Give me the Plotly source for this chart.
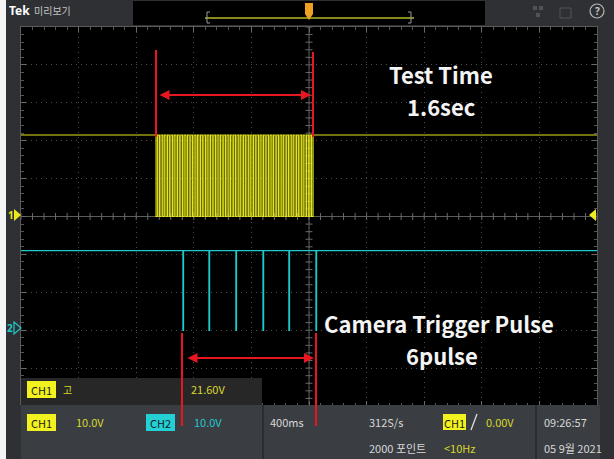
import numpy as np
import plotly.graph_objects as go

# ---------------- acquisition settings ----------------
TIME_PER_DIV = 0.4          # 400 ms/div, 10 divisions, trigger at centre
CH1_VOLTS_PER_DIV = 10.0
CH2_VOLTS_PER_DIV = 10.0
CH1_OFFSET_DIV = 0.0        # CH1 ground at screen centre
CH2_OFFSET_DIV = -3.0       # CH2 ground three divisions below centre

# ---------------- CH1: test pulse train ----------------
ch1_idle_v = 21.5
ch1_low_v = 0.0
ch1_low_width = 0.011
ch1_low_starts = [
    -1.062, -1.039, -1.016, -0.993, -0.970, -0.947, -0.924, -0.901,
    -0.878, -0.855, -0.832, -0.809, -0.786, -0.764, -0.741, -0.718,
    -0.695, -0.672, -0.649, -0.626, -0.603, -0.580, -0.557, -0.534,
    -0.511, -0.488, -0.465, -0.442, -0.419, -0.396, -0.373, -0.350,
    -0.327, -0.304, -0.281, -0.258, -0.235, -0.212, -0.189, -0.166,
    -0.143, -0.120, -0.097, -0.074, -0.051, -0.028, -0.005, 0.017,
]

# ---------------- CH2: camera trigger pulses ----------------
ch2_idle_v = 21.0
ch2_low_v = 0.0
ch2_pulse_width = 0.003
ch2_pulse_times = [-0.875, -0.694, -0.507, -0.319, -0.139, 0.049]

# ---------------- status readouts ----------------
ch1_scale_text = "10.0V"
ch2_scale_text = "10.0V"
timebase_text = "400ms"
sample_rate_text = "312S/s"
record_text = "2000 포인트"
trigger_level_text = "0.00V"
trigger_freq_text = "<10Hz"
clock_text = "09:26:57"
date_text = "05 9월 2021"
cursor_text = "21.60V"

W, H = 614, 459
X0, X1, Y0, Y1 = 21, 597, 27, 406   # graticule in pixels


def px(x):
    return x / W


def py(y):
    return 1 - y / H


def build_trace(idle, low, starts, width):
    t, v = [-5 * TIME_PER_DIV], [idle]
    for s in starts:
        t += [s, s, s + width, s + width]
        v += [idle, low, low, idle]
    t.append(5 * TIME_PER_DIV)
    v.append(idle)
    return t, v


fig = go.Figure()

# centre crosshair with minor tick marks
minor_x = np.arange(-5, 5.001, 0.2) * TIME_PER_DIV
minor_y = np.arange(-5, 5.001, 0.2)
fig.add_trace(go.Scatter(x=[-2, 2], y=[0, 0], mode="lines",
                         line=dict(color="#5c5c5c", width=1), hoverinfo="skip"))
fig.add_trace(go.Scatter(x=[0, 0], y=[-5, 5], mode="lines",
                         line=dict(color="#5c5c5c", width=1), hoverinfo="skip"))
fig.add_trace(go.Scatter(x=minor_x, y=np.zeros_like(minor_x), mode="markers",
                         marker=dict(symbol="line-ns", size=5,
                                     line=dict(color="#6a6a6a", width=1)),
                         hoverinfo="skip"))
fig.add_trace(go.Scatter(x=np.zeros_like(minor_y), y=minor_y, mode="markers",
                         marker=dict(symbol="line-ew", size=5,
                                     line=dict(color="#6a6a6a", width=1)),
                         hoverinfo="skip"))

# CH1 waveform
t1, v1 = build_trace(ch1_idle_v, ch1_low_v, ch1_low_starts, ch1_low_width)
fig.add_trace(go.Scatter(
    x=t1, y=[v / CH1_VOLTS_PER_DIV + CH1_OFFSET_DIV for v in v1],
    mode="lines", line=dict(color="#e6e61e", width=1.2, simplify=False),
    hoverinfo="skip"))

# CH2 waveform
t2, v2 = build_trace(ch2_idle_v, ch2_low_v, ch2_pulse_times, ch2_pulse_width)
fig.add_trace(go.Scatter(
    x=t2, y=[v / CH2_VOLTS_PER_DIV + CH2_OFFSET_DIV for v in v2],
    mode="lines", line=dict(color="#1ecace", width=1.4, simplify=False),
    hoverinfo="skip"))

axis_common = dict(
    showticklabels=False, zeroline=False, showline=True, linecolor="#5a5a5a",
    mirror="allticks", ticks="inside", ticklen=5, tickcolor="#6a6a6a",
    showgrid=True, gridcolor="#4c4c4c", griddash="1px,4px", gridwidth=1,
    fixedrange=True,
)
fig.update_xaxes(range=[-5 * TIME_PER_DIV, 5 * TIME_PER_DIV], dtick=TIME_PER_DIV,
                 domain=[px(X0), px(X1)],
                 minor=dict(dtick=TIME_PER_DIV / 5, ticks="inside", ticklen=3,
                            tickcolor="#555555", showgrid=False),
                 **axis_common)
fig.update_yaxes(range=[-5, 5], dtick=1, domain=[py(Y1), py(Y0)],
                 minor=dict(dtick=0.2, ticks="inside", ticklen=3,
                            tickcolor="#555555", showgrid=False),
                 **axis_common)

shapes = []
ann = []


def rect(x0, y0, x1, y1, fill, line=None, lw=0):
    shapes.append(dict(type="rect", xref="paper", yref="paper", layer="above",
                       x0=px(x0), x1=px(x1), y0=py(y1), y1=py(y0),
                       fillcolor=fill, line=dict(color=line or fill, width=lw)))


def seg(x0, y0, x1, y1, color, w):
    shapes.append(dict(type="line", xref="paper", yref="paper", layer="above",
                       x0=px(x0), x1=px(x1), y0=py(y0), y1=py(y1),
                       line=dict(color=color, width=w)))


def path(points, fill, line=None, lw=0):
    d = "M " + " L ".join(f"{px(x):.5f},{py(y):.5f}" for x, y in points) + " Z"
    shapes.append(dict(type="path", xref="paper", yref="paper", layer="above",
                       path=d, fillcolor=fill, line=dict(color=line or fill, width=lw)))


def text(x, y, s, color, size, anchor="left", bold=False,
         family="Liberation Sans Narrow, Noto Sans CJK KR, sans-serif", bg=None):
    ann.append(dict(xref="paper", yref="paper", x=px(x), y=py(y), text=f"<b>{s}</b>" if bold else s,
                    showarrow=False, xanchor=anchor, yanchor="middle",
                    font=dict(color=color, size=size, family=family),
                    bgcolor=bg, borderpad=0))


def badge(x0, y0, x1, y1, s, fill):
    rect(x0, y0, x1, y1, fill)
    text((x0 + x1) / 2, (y0 + y1) / 2 + 0.5, s, "#1a1a1a", 11, anchor="center")


# frame edge
rect(0, 0, 6, H, "#f4f4f4")

# top bar
rect(133, 1, 485, 25, "#000000")
seg(205, 18, 414, 18, "#b4b822", 1.5)
seg(207, 12, 207, 23, "#9a9a9a", 1)
seg(207, 12, 210, 12, "#9a9a9a", 1)
seg(207, 23, 210, 23, "#9a9a9a", 1)
seg(411, 12, 411, 23, "#9a9a9a", 1)
seg(408, 12, 411, 12, "#9a9a9a", 1)
seg(408, 23, 411, 23, "#9a9a9a", 1)
path([(305, 3), (313, 3), (313, 14), (309, 20), (305, 14)], "#f0a020")
text(8, 11, "Tek", "#ffffff", 12, bold=True, family="Noto Sans, sans-serif")
text(33, 11, "미리보기", "#c4c4c4", 10, family="Noto Sans CJK KR, sans-serif")
shapes.append(dict(type="circle", xref="paper", yref="paper", layer="above",
                   x0=px(590), x1=px(604), y0=py(18), y1=py(4),
                   line=dict(color="#b8b8b8", width=1.2)))
text(597, 11, "?", "#c8c8c8", 10, anchor="center", bold=True, family="Noto Sans, sans-serif")
rect(533, 6, 537, 10, "#505356", "#505356")
rect(539, 6, 543, 10, "#505356", "#505356")
rect(536, 13, 540, 17, "#505356", "#505356")
rect(560, 8, 571, 18, "rgba(0,0,0,0)", "#505356", 1)

# channel ground markers and trigger level arrow
path([(14, 209), (21, 215), (14, 221)], "#e8e81e")
text(11, 215, "1", "#e8e81e", 10, anchor="center", bold=True, family="Noto Sans, sans-serif")
path([(14, 322), (21, 328), (14, 334)], "rgba(0,0,0,0)", "#1ec8cc", 1.2)
text(10, 328, "2", "#1ec8cc", 10, anchor="center", bold=True, family="Noto Sans, sans-serif")
path([(596, 209), (589, 215), (596, 221)], "#ecec1e")

# cursor readout strip
rect(21, 378, 262, 405, "#272727")
badge(27, 381, 56, 398, "CH1", "#f2f21e")
text(62, 389, "고", "#d8d82a", 10, family="Noto Sans CJK KR, sans-serif")
text(190, 389, cursor_text, "#d8d82a", 11)

# status panel
rect(6, 405, 600, H, "#3a3d42")
rect(6, 405, 21, H, "#2e3034")
seg(263, 405, 263, H, "#2a2c30", 2)
seg(536, 405, 536, H, "#2a2c30", 2)
badge(27, 414, 56, 431, "CH1", "#f2f21e")
text(75, 422, ch1_scale_text, "#d8d82a", 11)
badge(146, 414, 175, 431, "CH2", "#22d0d6")
text(193, 422, ch2_scale_text, "#22c8ce", 11)
text(269, 422, timebase_text, "#d8d8d8", 11)
text(368, 422, sample_rate_text, "#d8d8d8", 11)
badge(443, 414, 466, 430, "CH1", "#f2f21e")
seg(471, 430, 477, 414, "#e0e0e0", 1.3)
text(485, 422, trigger_level_text, "#d8d82a", 11)
text(543, 422, clock_text, "#d8d8d8", 11)
text(368, 448, record_text, "#d8d8d8", 11)
text(443, 448, trigger_freq_text, "#d8d82a", 11)
text(543, 448, date_text, "#d8d8d8", 11)

# measurement markings
RED = "#e8161e"
seg(156, 50, 156, 137, RED, 2)
seg(313, 52, 313, 137, RED, 2)
seg(182, 333, 182, 426, RED, 2)
seg(316, 333, 316, 426, RED, 2)
for xa, xb, yy in [(158, 311, 95), (186, 314, 358)]:
    ann.append(dict(xref="paper", yref="paper", x=px(xb), y=py(yy),
                    axref="pixel", ayref="pixel", ax=-(xb - xa), ay=0,
                    showarrow=True, arrowhead=2, startarrowhead=2,
                    arrowside="end+start", arrowsize=1, startarrowsize=1,
                    arrowwidth=2, arrowcolor=RED, text=""))

big = "Noto Sans CJK KR, Noto Sans, sans-serif"
text(441, 74, "Test Time", "#f4f4f4", 22, anchor="center", bold=True, family=big)
text(441, 106, "1.6sec", "#f4f4f4", 22, anchor="center", bold=True, family=big)
text(439, 323, "Camera Trigger Pulse", "#f4f4f4", 22, anchor="center", bold=True, family=big)
text(442, 355, "6pulse", "#f4f4f4", 22, anchor="center", bold=True, family=big)

fig.update_layout(
    width=W, height=H, margin=dict(l=0, r=0, t=0, b=0),
    paper_bgcolor="#2e3034", plot_bgcolor="#000000", showlegend=False,
    shapes=shapes, annotations=ann,
)

fig.write_html("out.html", config=dict(displayModeBar=False))
